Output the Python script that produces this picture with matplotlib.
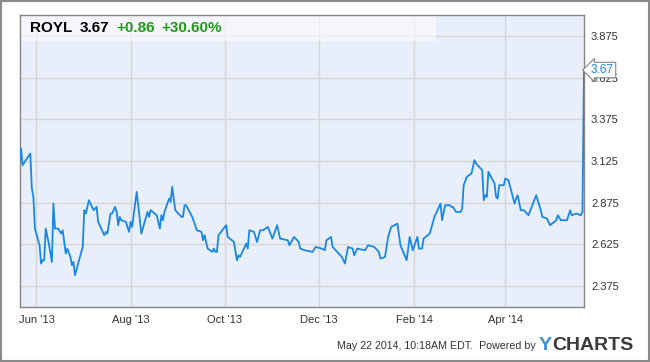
import matplotlib
matplotlib.use("Agg")
import matplotlib.pyplot as plt
from matplotlib.patches import Rectangle
import pandas as pd

plt.rcParams["font.family"] = ["Liberation Sans", "DejaVu Sans"]

# --- data ---
dates = [
    "2013-05-21", "2013-05-22", "2013-05-23", "2013-05-28", "2013-05-29", "2013-05-30",
    "2013-05-31", "2013-06-03", "2013-06-04", "2013-06-05", "2013-06-06", "2013-06-07",
    "2013-06-09", "2013-06-11", "2013-06-12", "2013-06-13", "2013-06-15", "2013-06-17",
    "2013-06-18", "2013-06-20", "2013-06-21", "2013-06-23", "2013-06-24", "2013-06-25",
    "2013-06-26", "2013-06-28", "2013-07-01", "2013-07-02", "2013-07-03", "2013-07-05",
    "2013-07-08", "2013-07-10", "2013-07-11", "2013-07-15", "2013-07-16", "2013-07-17",
    "2013-07-19", "2013-07-20", "2013-07-22", "2013-07-23", "2013-07-24", "2013-07-25",
    "2013-07-26", "2013-07-29", "2013-07-31", "2013-08-01", "2013-08-02", "2013-08-05",
    "2013-08-07", "2013-08-08", "2013-08-12", "2013-08-13", "2013-08-14", "2013-08-18",
    "2013-08-20", "2013-08-21", "2013-08-22", "2013-08-23", "2013-08-26", "2013-08-27",
    "2013-08-28", "2013-08-30", "2013-09-03", "2013-09-04", "2013-09-05", "2013-09-06",
    "2013-09-10", "2013-09-13", "2013-09-16", "2013-09-17", "2013-09-18", "2013-09-20",
    "2013-09-23", "2013-09-24", "2013-09-25", "2013-09-26", "2013-09-27", "2013-10-02",
    "2013-10-03", "2013-10-07", "2013-10-09", "2013-10-10", "2013-10-11", "2013-10-15",
    "2013-10-16", "2013-10-17", "2013-10-20", "2013-10-22", "2013-10-24", "2013-10-26",
    "2013-10-29", "2013-11-01", "2013-11-04", "2013-11-06", "2013-11-11", "2013-11-12",
    "2013-11-15", "2013-11-18", "2013-11-19", "2013-11-22", "2013-11-27", "2013-11-29",
    "2013-12-03", "2013-12-05", "2013-12-06", "2013-12-09", "2013-12-10", "2013-12-13",
    "2013-12-16", "2013-12-18", "2013-12-20", "2013-12-23", "2013-12-24", "2013-12-26",
    "2013-12-31", "2014-01-02", "2014-01-06", "2014-01-09", "2014-01-10", "2014-01-13",
    "2014-01-15", "2014-01-17", "2014-01-21", "2014-01-23", "2014-01-27", "2014-01-29",
    "2014-01-31", "2014-02-03", "2014-02-04", "2014-02-06", "2014-02-07", "2014-02-11",
    "2014-02-14", "2014-02-18", "2014-02-19", "2014-02-21", "2014-02-24", "2014-02-25",
    "2014-02-26", "2014-02-28", "2014-03-03", "2014-03-04", "2014-03-05", "2014-03-07",
    "2014-03-10", "2014-03-12", "2014-03-13", "2014-03-17", "2014-03-18", "2014-03-19",
    "2014-03-20", "2014-03-21", "2014-03-25", "2014-03-26", "2014-03-27", "2014-03-28",
    "2014-03-31", "2014-04-01", "2014-04-03", "2014-04-05", "2014-04-07", "2014-04-08",
    "2014-04-09", "2014-04-11", "2014-04-13", "2014-04-16", "2014-04-21", "2014-04-24",
    "2014-04-25", "2014-04-28", "2014-04-30", "2014-05-04", "2014-05-05", "2014-05-07",
    "2014-05-11", "2014-05-13", "2014-05-14", "2014-05-17", "2014-05-20", "2014-05-21",
    "2014-05-22",
]
prices = [
    3.12, 3.20, 3.10, 3.17, 2.96, 2.91,
    2.72, 2.62, 2.51, 2.53, 2.53, 2.72,
    2.63, 2.52, 2.87, 2.72, 2.72, 2.69,
    2.71, 2.57, 2.60, 2.55, 2.50, 2.52,
    2.44, 2.51, 2.61, 2.83, 2.81, 2.89,
    2.83, 2.85, 2.76, 2.68, 2.70, 2.69,
    2.81, 2.81, 2.85, 2.82, 2.74, 2.79,
    2.77, 2.76, 2.70, 2.76, 2.73, 2.94,
    2.77, 2.69, 2.82, 2.79, 2.83, 2.80,
    2.72, 2.80, 2.77, 2.82, 2.90, 2.88,
    2.97, 2.83, 2.79, 2.79, 2.86, 2.86,
    2.79, 2.71, 2.70, 2.65, 2.68, 2.60,
    2.58, 2.60, 2.58, 2.58, 2.68, 2.74,
    2.67, 2.64, 2.53, 2.56, 2.55, 2.63,
    2.60, 2.71, 2.70, 2.64, 2.71, 2.71,
    2.73, 2.66, 2.74, 2.66, 2.65, 2.62,
    2.67, 2.64, 2.60, 2.59, 2.58, 2.61,
    2.60, 2.59, 2.65, 2.67, 2.61, 2.58,
    2.55, 2.51, 2.61, 2.60, 2.56, 2.60,
    2.59, 2.62, 2.61, 2.58, 2.54, 2.55,
    2.67, 2.73, 2.75, 2.62, 2.53, 2.67,
    2.59, 2.67, 2.60, 2.60, 2.66, 2.69,
    2.79, 2.87, 2.77, 2.86, 2.86, 2.85,
    2.85, 2.82, 2.82, 2.84, 2.98, 3.03,
    3.05, 3.13, 3.11, 3.07, 2.89, 2.92,
    2.91, 3.06, 2.99, 2.91, 2.90, 2.98,
    2.98, 3.02, 3.01, 2.94, 2.87, 2.90,
    2.92, 2.83, 2.83, 2.80, 2.92, 2.83,
    2.79, 2.78, 2.74, 2.77, 2.80, 2.77,
    2.77, 2.83, 2.80, 2.81, 2.80, 2.82,
    3.67,
]
tick_dates = ["2013-06-01", "2013-08-01", "2013-10-01", "2013-12-01", "2014-02-01", "2014-04-01"]
tick_labels = ["Jun '13", "Aug '13", "Oct '13", "Dec '13", "Feb '14", "Apr '14"]
y_ticks = [2.375, 2.625, 2.875, 3.125, 3.375, 3.625, 3.875]

ticker = "ROYL"
last_price = "3.67"
change = "+0.86"
change_pct = "+30.60%"
footer = "May 22 2014, 10:18AM EDT.  Powered by"

# --- colours ---
line_color = "#1a87e6"
bg_color = "#e9effa"
grid_color = "#d6d6d6"
spine_color = "#858585"
text_color = "#333333"
green = "#1f9a17"

W, H = 650, 362


def fx(x):
    return x / W


def fy(y):
    return 1 - y / H


x = pd.to_datetime(dates)

fig = plt.figure(figsize=(6.5, 3.62), dpi=100)
fig.patch.set_facecolor("white")
ax = fig.add_axes([fx(19.5), fy(307), fx(584) - fx(19.5), fy(15) - fy(307)])
ax.set_facecolor(bg_color)

ax.plot(x, prices, color=line_color, linewidth=1.3, solid_joinstyle="round", zorder=3)

ax.set_xlim(pd.Timestamp("2013-05-21"), pd.Timestamp("2014-05-22"))
ax.set_ylim(2.25, 4.0)

ax.set_xticks(pd.to_datetime(tick_dates))
ax.set_xticklabels(tick_labels)
ax.set_yticks(y_ticks)
ax.set_yticklabels([f"{v:.3f}" for v in y_ticks])
ax.yaxis.tick_right()
ax.tick_params(axis="both", length=0, labelsize=8, colors=text_color)
ax.tick_params(axis="y", pad=5)
ax.tick_params(axis="x", pad=6)
ax.grid(True, color=grid_color, linewidth=1.0, zorder=1)
ax.set_axisbelow(True)
for spine in ax.spines.values():
    spine.set_color(spine_color)
    spine.set_linewidth(1.0)

# header box with ticker summary
ax.add_patch(Rectangle((0, 1 - 26 / 292), (436 - 19.5) / 564.5, 26 / 292,
                       transform=ax.transAxes, facecolor="white", alpha=0.55,
                       edgecolor="none", zorder=2))
hy = fy(28.5)
fig.text(fx(30), hy, ticker, fontsize=11, fontweight="bold", color="black", va="center")
fig.text(fx(80), hy, last_price, fontsize=11, fontweight="bold", color="black", va="center")
fig.text(fx(116), hy, change, fontsize=11, fontweight="bold", color=green, va="center")
fig.text(fx(161), hy, change_pct, fontsize=11, fontweight="bold", color=green, va="center")

# last price flag on the right axis, drawn over the 3.625 label as in the source
flag = ax.annotate(last_price, xy=(1.0, prices[-1]), xycoords=("axes fraction", "data"),
                   xytext=(5, 0), textcoords="offset points", va="center", ha="left",
                   fontsize=8.5, color=line_color, annotation_clip=False,
                   bbox=dict(boxstyle="larrow,pad=0.15", facecolor="white",
                             edgecolor=spine_color, linewidth=0.8))
flag.set_zorder(10)

# footer
fig.text(fx(536), fy(346), footer, fontsize=7.7, color=text_color, ha="right", va="center")
fig.text(fx(539), fy(346), "Y", fontsize=14, fontweight="bold", color="#3b8fd8", va="center")
fig.text(fx(552), fy(346), "CHARTS", fontsize=14, fontweight="bold", color="#3a3a3a", va="center")

# outer frame
fig.patches.append(Rectangle((0.001, 0.002), 0.997, 0.996, transform=fig.transFigure,
                             facecolor="none", edgecolor="#8a8a8a", linewidth=1.5))

fig.savefig("out.png", dpi=100, facecolor="white")
plt.close(fig)
